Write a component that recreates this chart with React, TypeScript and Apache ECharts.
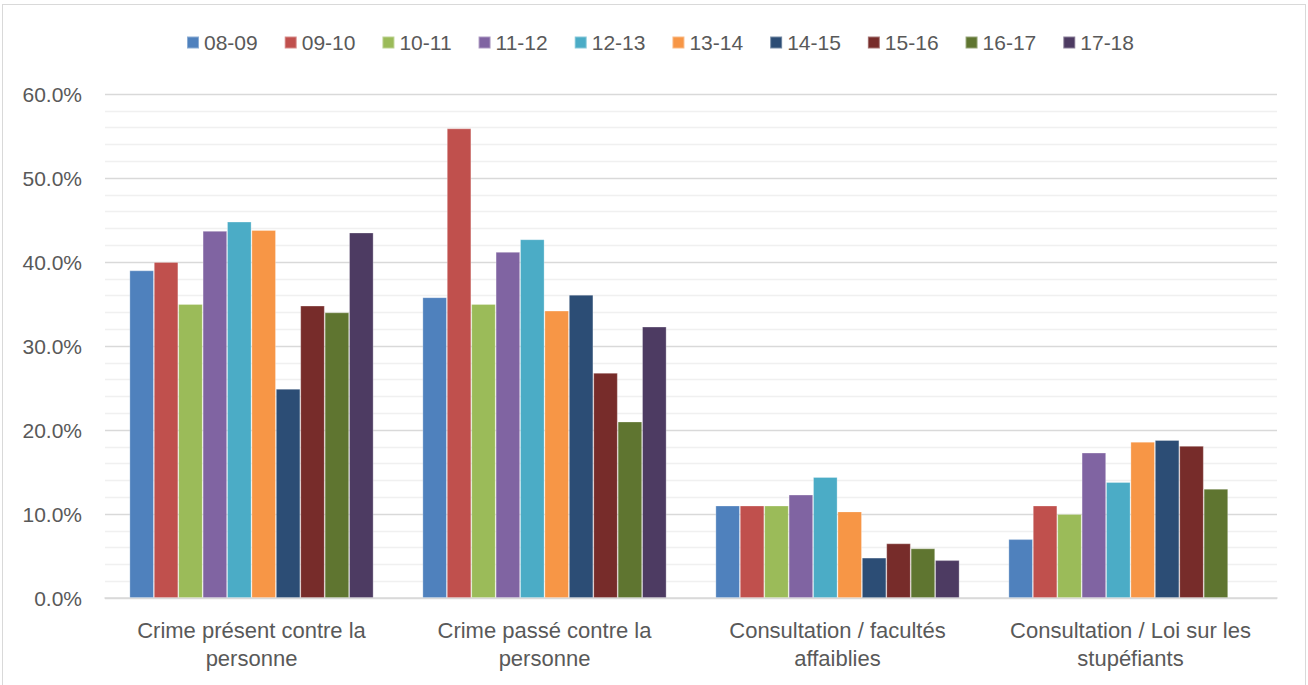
import React, { useEffect, useRef } from "react";
import * as echarts from "echarts";

const categories = [
  "Crime présent contre la\npersonne",
  "Crime passé contre la\npersonne",
  "Consultation / facultés\naffaiblies",
  "Consultation / Loi sur les\nstupéfiants",
];

const seriesNames = ["08-09", "09-10", "10-11", "11-12", "12-13", "13-14", "14-15", "15-16", "16-17", "17-18"];

const colors = ["#4f81bd", "#c0504d", "#9bbb59", "#8064a2", "#4bacc6", "#f79646", "#2c4d75", "#772c2a", "#5f7530", "#4d3b62"];

// values per series, across the 4 categories
const v0809 = [39.0, 35.8, 11.0, 7.0];
const v0910 = [40.0, 55.9, 11.0, 11.0];
const v1011 = [35.0, 35.0, 11.0, 10.0];
const v1112 = [43.7, 41.2, 12.3, 17.3];
const v1213 = [44.8, 42.7, 14.4, 13.8];
const v1314 = [43.8, 34.2, 10.3, 18.6];
const v1415 = [24.9, 36.1, 4.8, 18.8];
const v1516 = [34.8, 26.8, 6.5, 18.1];
const v1617 = [34.0, 21.0, 5.9, 13.0];
const v1718 = [43.5, 32.3, 4.5, null];

const seriesValues = [v0809, v0910, v1011, v1112, v1213, v1314, v1415, v1516, v1617, v1718];

const yTicks = [0, 10, 20, 30, 40, 50, 60];

const FONT = "'Liberation Sans', Arial, sans-serif";
const TEXT = "#595959";

export default function App() {
  const ref = useRef<HTMLDivElement>(null);

  useEffect(() => {
    if (!ref.current) return;
    const chart = echarts.init(ref.current, undefined, { renderer: "svg" });
    chart.setOption({
      animation: false,
      backgroundColor: "#ffffff",
      textStyle: { fontFamily: FONT },
      legend: {
        top: 27,
        left: 181,
        itemWidth: 12,
        itemHeight: 12,
        itemGap: 26,
        icon: "rect",
        textStyle: { color: TEXT, fontSize: 21, fontFamily: FONT },
        data: seriesNames,
      },
      grid: { left: 105, right: 31, top: 94, bottom: 87 },
      xAxis: {
        type: "category",
        data: categories,
        axisLine: { show: true, lineStyle: { color: "#d9d9d9", width: 1.5 } },
        axisTick: { show: false },
        axisLabel: {
          color: TEXT,
          fontSize: 22,
          lineHeight: 28,
          margin: 18,
          interval: 0,
          align: "center",
          fontFamily: FONT,
        },
      },
      yAxis: {
        type: "value",
        min: yTicks[0],
        max: yTicks[yTicks.length - 1],
        interval: 10,
        axisLine: { show: false },
        axisTick: { show: false },
        axisLabel: {
          color: TEXT,
          fontSize: 21,
          margin: 23,
          fontFamily: FONT,
          formatter: (v: number) => v.toFixed(1) + "%",
        },
        splitLine: { show: true, lineStyle: { color: "#d9d9d9", width: 1.3 } },
        minorTick: { show: false, splitNumber: 5 },
        minorSplitLine: { show: true, lineStyle: { color: "#f0f0f0", width: 1.3 } },
      },
      series: seriesNames.map((name, i) => ({
        name,
        type: "bar",
        data: seriesValues[i],
        barGap: "0%",
        barCategoryGap: "16.7%",
        itemStyle: {
          color: colors[i],
          borderColor: "rgba(255,255,255,0.35)",
          borderWidth: 0.8,
        },
      })),
    });
    return () => chart.dispose();
  }, []);

  return (
    <div style={{ position: "fixed", left: 0, top: 0, width: 1308, height: 685, background: "#fff", overflow: "hidden" }}>
      <div ref={ref} style={{ position: "absolute", left: 0, top: 0, width: 1308, height: 685 }} />
      <div
        style={{
          position: "absolute",
          left: 2,
          top: 4,
          width: 1304,
          height: 690,
          boxSizing: "border-box",
          border: "1.5px solid #d9d9d9",
          pointerEvents: "none",
        }}
      />
    </div>
  );
}
